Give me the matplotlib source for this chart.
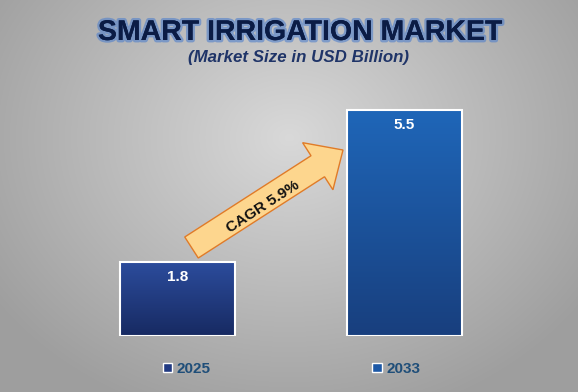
import numpy as np
import matplotlib
matplotlib.use('Agg')
import matplotlib.pyplot as plt
from matplotlib.patches import FancyArrow, Patch
import matplotlib.patheffects as pe

plt.rcParams['font.family'] = ['Liberation Sans', 'DejaVu Sans']

# data
years = ['2025', '2033']
market_size = [1.8, 5.5]
cagr_label = 'CAGR 5.9%'
title = 'SMART IRRIGATION MARKET'
subtitle = '(Market Size in USD Billion)'

bar_top_colors = ['#2c4c9c', '#1f66b8']
bar_bottom_colors = ['#172a62', '#183f7e']
legend_colors = ['#213a82', '#1c58a6']

W, H = 578, 392
fig = plt.figure(figsize=(W / 100, H / 100), dpi=100)

# background radial gray gradient
ax_bg = fig.add_axes([0, 0, 1, 1])
yy, xx = np.mgrid[0:H, 0:W]
r = np.sqrt(((xx - W * 0.5) / (W * 0.62)) ** 2 + ((yy - H * 0.35) / (H * 0.75)) ** 2)
r = np.clip(r, 0, 1)
c0, c1 = np.array([0.85, 0.85, 0.85]), np.array([0.62, 0.62, 0.62])
bg = c0[None, None, :] * (1 - r[..., None]) + c1[None, None, :] * r[..., None]
ax_bg.imshow(bg, extent=(0, W, H, 0), aspect='auto')
ax_bg.set_xlim(0, W)
ax_bg.set_ylim(H, 0)
ax_bg.axis('off')

# bars
base_px, top_px = 336, 60
unit = 227.0  # px between bar centers
x_left = -177.5 / unit
x_right = (W - 177.5) / unit
ax = fig.add_axes([0, (H - base_px) / H, 1, (base_px - top_px) / H])
ax.patch.set_alpha(0)
px_per_val = (base_px - 110) / 5.5
ax.axis('off')

xpos = np.arange(len(years))
bars = ax.bar(xpos, market_size, width=115 / unit, color='none',
              edgecolor='white', linewidth=1.5, zorder=3)
for i, b in enumerate(bars):
    x0, y0 = b.get_x(), b.get_y()
    w, h = b.get_width(), b.get_height()
    t = np.array(matplotlib.colors.to_rgb(bar_top_colors[i]))
    bo = np.array(matplotlib.colors.to_rgb(bar_bottom_colors[i]))
    g = np.linspace(0, 1, 100)[:, None]
    grad = (t[None, :] * (1 - g) + bo[None, :] * g)[:, None, :]
    im = ax.imshow(grad, extent=(x0, x0 + w, y0, y0 + h), aspect='auto',
                   origin='upper', zorder=2)
    im.set_clip_path(b)
    ax.annotate(f'{market_size[i]}', (x0 + w / 2, y0 + h),
                xytext=(0, -11), textcoords='offset points',
                ha='center', va='center', color='white',
                fontsize=11, fontweight='bold', zorder=4)
ax.set_xlim(x_left, x_right)
ax.set_ylim(0, (base_px - top_px) / px_per_val)

# legend
handles = [Patch(facecolor=legend_colors[i], edgecolor='white', linewidth=1)
           for i in range(len(years))]
leg = fig.legend(handles, years, loc='center',
                 bbox_to_anchor=(0.5 + 2.5 / W, 1 - 369 / H),
                 ncol=2, frameon=False, handlelength=0.6,
                 handleheight=0.6, handletextpad=0.3, columnspacing=10.6,
                 prop={'weight': 'bold', 'size': 11})
for txt in leg.get_texts():
    txt.set_color('#1f4e79')

# overlay for arrow and titles
ov = fig.add_axes([0, 0, 1, 1])
ov.patch.set_alpha(0)
ov.set_xlim(0, W)
ov.set_ylim(H, 0)
ov.axis('off')

arrow = FancyArrow(191.5, 247.5, 151.5, -97.5, width=25, head_width=56,
                   head_length=30, length_includes_head=True,
                   facecolor='#fdd68e', edgecolor='#e07b28', linewidth=1)
ov.add_patch(arrow)
ov.text(263, 207, cagr_label, rotation=33, rotation_mode='anchor',
        ha='center', va='center', fontsize=11, fontweight='bold', color='#111111')

ov.text(300, 33, title, ha='center', va='center', fontsize=20.5,
        fontweight='bold', color='#0b1c45',
        path_effects=[pe.withStroke(linewidth=3.5, foreground='#4f7fcc', alpha=0.6),
                      pe.Normal()])
ov.text(299, 57, subtitle, ha='center', va='center', fontsize=12.2,
        fontweight='bold', fontstyle='italic', color='#1f3468')

fig.savefig('out.png', dpi=100)
